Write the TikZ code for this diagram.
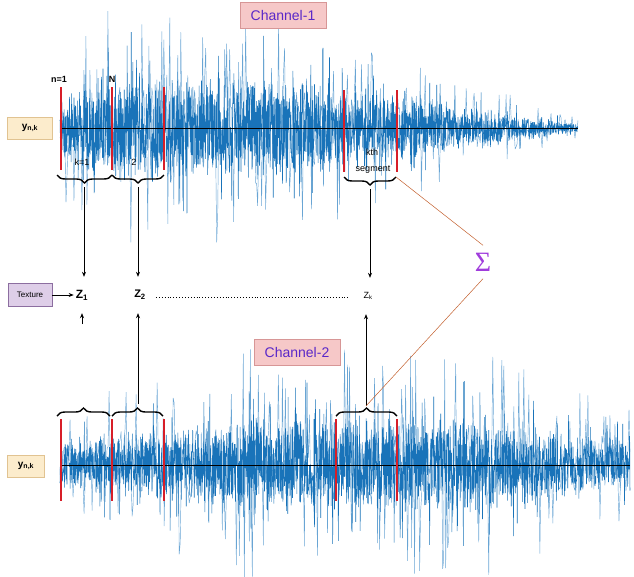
\documentclass[tikz,border=0pt]{standalone}
\usepackage{fontspec}
\setmainfont{Liberation Sans}
\newfontfamily\sigfont{Liberation Serif}
\usetikzlibrary{decorations.pathreplacing,arrows.meta}
\definecolor{sigdark}{RGB}{25,115,185}
\definecolor{siglight}{RGB}{105,165,212}
\definecolor{redbar}{RGB}{215,30,40}
\definecolor{chanfill}{RGB}{246,200,200}
\definecolor{chandraw}{RGB}{215,150,150}
\definecolor{chantext}{RGB}{90,40,200}
\definecolor{yfill}{RGB}{252,236,204}
\definecolor{ydraw}{RGB}{225,195,145}
\definecolor{texfill}{RGB}{222,206,232}
\definecolor{texdraw}{RGB}{140,110,160}
\definecolor{sigmacol}{RGB}{160,60,220}
\definecolor{orangeline}{RGB}{195,95,45}
\tikzset{
  chan/.style={draw=chandraw, fill=chanfill, text=chantext, font=\fontsize{14}{16}\selectfont, minimum width=86pt, minimum height=26pt, inner sep=2pt},
  ybox/.style={draw=ydraw, fill=yfill, font=\bfseries\fontsize{10}{12}\selectfont, minimum height=22pt, inner sep=2pt},
  texbox/.style={draw=texdraw, fill=texfill, font=\fontsize{8}{10}\selectfont, minimum width=44pt, minimum height=23pt, inner sep=1pt},
  redseg/.style={draw=redbar, line width=2.6pt},
  bracetop/.style={decorate, decoration={brace, amplitude=8pt, mirror}, line width=1.4pt},
  bracebot/.style={decorate, decoration={brace, amplitude=8pt}, line width=1.4pt},
  zlab/.style={minimum height=36pt, inner xsep=2pt, inner ysep=0pt},
  arr/.style={-{Stealth[length=5pt,width=4pt]}, line width=0.6pt},
  small/.style={font=\fontsize{9}{11}\selectfont, inner sep=1pt},
  wavelight/.style={siglight, line width=0.45pt, line join=bevel},
  wavedark/.style={sigdark, line width=0.55pt, line join=bevel},
  declare function={
    envA(\x) = (\x<110) ? 70+(\x-60)*1.0 : ((\x<270) ? 120 : 120-(\x-270)*0.357);
    envB(\x) = (\x<250) ? 60+(\x-60)*0.29 : ((\x<480) ? 116 : 116-(\x-480)*0.4);
  }
}
\begin{document}
\begin{tikzpicture}[x=1pt,y=-1pt]
\useasboundingbox (0,0) rectangle (634,576);
\pgfmathsetseed{11}
% ---- channel 1 waveform
\draw[wavelight] plot[domain=60:578, samples=520] (\x, {128+envA(\x)*rand*(rnd<0.3 ? 1 : 0.35)});
\draw[wavedark] plot[domain=60:578, samples=2000] (\x, {128+envA(\x)*0.5*rand*(rnd<0.08 ? 1.6 : (0.5+0.5*rnd))});
\draw[black, line width=0.6pt] (60,128) -- (578,128);
% ---- channel 2 waveform
\draw[wavelight] plot[domain=60:630, samples=570] (\x, {465+envB(\x)*rand*(rnd<0.3 ? 1 : 0.35)});
\draw[wavedark] plot[domain=60:630, samples=2200] (\x, {465+envB(\x)*0.46*rand*(rnd<0.08 ? 1.6 : (0.5+0.5*rnd))});
\draw[black, line width=0.6pt] (60,465) -- (630,465);

% ---- red segment markers, channel 1
\draw[redseg] (61,87) -- (61,170);
\draw[redseg] (112,87) -- (112,170);
\draw[redseg] (164,87) -- (164,170);
\draw[redseg] (344,90) -- (344,172);
\draw[redseg] (397,90) -- (397,172);
% ---- red segment markers, channel 2
\draw[redseg] (61,419) -- (61,501);
\draw[redseg] (112,419) -- (112,501);
\draw[redseg] (164,419) -- (164,501);
\draw[redseg] (336,419) -- (336,501);
\draw[redseg] (397,419) -- (397,501);

% ---- labels channel 1
\node[small, font=\bfseries\fontsize{9}{11}\selectfont] (n1) at (59,79) {n=1};
\node[small, font=\bfseries\fontsize{9}{11}\selectfont] (nN) at (112,79) {N};
\node[small] (k1) at (82,162) {k=1};
\node[small] (k2) at (134,162) {2};
\node[small] (kth) at (372,152) {kth};
\node[small] (kseg) at (373,170) {segment};

% ---- braces channel 1
\draw[bracetop] (57,175) -- (112,175);
\draw[bracetop] (112,175) -- (164,175);
\draw[bracetop] (344,177) -- (396,177);
\coordinate (t1) at (84,187);
\coordinate (t2) at (138,187);
\coordinate (tk) at (370,189);
% ---- braces channel 2
\draw[bracebot] (57,416) -- (110,416);
\draw[bracebot] (112,416) -- (163,416);
\draw[bracebot] (336,416) -- (397,416);
\coordinate (b1) at (83,404);
\coordinate (b2) at (138,404);
\coordinate (bk) at (366,406);

% ---- boxes
\node[chan] (ch1) at (283,15) {Channel-1};
\node[chan] (ch2) at (297,352) {Channel-2};
\node[ybox, minimum width=45pt] (y1) at (30,128) {y\textsubscript{n,k}};
\node[ybox, minimum width=37pt] (y2) at (26,466) {y\textsubscript{n,k}};
\node[texbox] (tex) at (30,295) {Texture};

% ---- Z nodes
\node[zlab, font=\bfseries\fontsize{12}{14}\selectfont] (z1) at (82,295) {Z\textsubscript{1}};
\node[zlab, font=\bfseries\fontsize{11}{13}\selectfont] (z2) at (140,295) {Z\textsubscript{2}};
\node[zlab, font=\fontsize{9}{11}\selectfont] (zk) at (368,296) {Z\textsubscript{k}};
\draw[dotted, line width=0.9pt, shorten <=8pt, shorten >=12pt] (z2.east |- 0,297) -- (zk.west |- 0,297);
\draw[arr] (tex.east) -- (z1.west);

% ---- arrows to Z
\draw[arr] (t1) -- (t1 |- z1.north);
\draw[arr] (t2) -- (t2 |- z2.north);
\draw[arr] (tk) -- (tk |- zk.north);
\coordinate (b1s) at (82,324);
\draw[arr] (b1s) -- (b1s |- z1.south);
\draw[arr] (b2) -- (b2 |- z2.south);
\draw[arr] (bk) -- (bk |- zk.south);

% ---- sigma
\node[text=sigmacol, minimum height=33pt, inner sep=0pt, font=\sigfont\fontsize{28}{28}\selectfont] (sig) at (483,262) {Σ};
\coordinate (kcorner) at (396,177);
\draw[orangeline, line width=0.5pt] (kcorner) -- (sig.north);
\draw[orangeline, line width=0.5pt] (sig.south) -- (bk);
\end{tikzpicture}
\end{document}
